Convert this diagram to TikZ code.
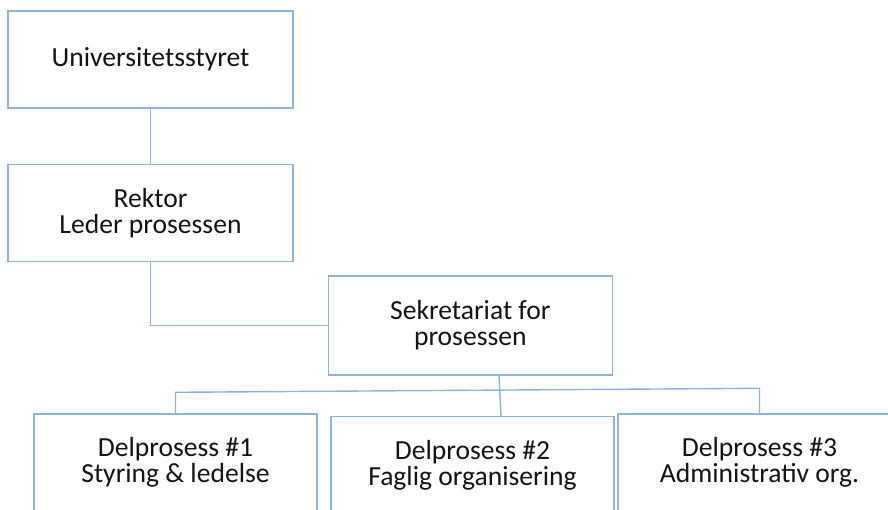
\documentclass[tikz,border=0pt]{standalone}
\usepackage{fontspec}
\setmainfont{Carlito}
\usetikzlibrary{calc}
\definecolor{linkblue}{RGB}{141,179,224}
\definecolor{inktext}{RGB}{20,20,20}
\tikzset{
  orgbox/.style={draw=linkblue, line width=1.4pt, fill=white, rectangle,
    inner sep=0pt, align=center, text=inktext,
    font=\fontsize{27.6}{26}\selectfont},
  orglink/.style={draw=linkblue, line width=1.4pt}
}
\begin{document}
\begin{tikzpicture}[x=1pt, y=-1pt]
  \useasboundingbox (0,0) rectangle (888,510);
  \clip (0,0) rectangle (888,510);
  \fill[white] (0,0) rectangle (888,510);

  % boxes
  \node[orgbox, minimum width=285pt, minimum height=97pt] (styret) at (150.5,59.7) {Universitetsstyret};
  \node[orgbox, minimum width=285pt, minimum height=97.5pt] (rektor) at (150.5,213) {Rektor\\Leder prosessen};
  \node[orgbox, minimum width=284pt, minimum height=99pt] (sek) at (470.3,325.5) {Sekretariat for\\prosessen};
  \node[orgbox, minimum width=283pt, minimum height=97pt] (d1) at (175.5,462.5) {Delprosess \#1\\Styring \& ledelse};
  \node[orgbox, minimum width=283pt, minimum height=97pt] (d2) at (472.5,465) {Delprosess \#2\\Faglig organisering};
  \node[orgbox, minimum width=283pt, minimum height=97pt] (d3) at (759.5,462.5) {Delprosess \#3\\Administrativ org.};

  % connectors
  \draw[orglink] (styret.south) -- (rektor.north);
  \draw[orglink] (rektor.south) |- (sek.west);

  \coordinate (sekout) at ($(sek.south)+(28.7,0)$);
  \coordinate (d2in) at ($(d2.north)+(28.5,0)$);
  \coordinate (barL) at ($(d1.north)+(0,-21)$);
  \coordinate (barR) at ($(d3.north)+(0,-25)$);
  \draw[orglink] (sekout) -- (d2in);
  \draw[orglink] (d1.north) -- (barL) -- (barR) -- (d3.north);
\end{tikzpicture}
\end{document}
